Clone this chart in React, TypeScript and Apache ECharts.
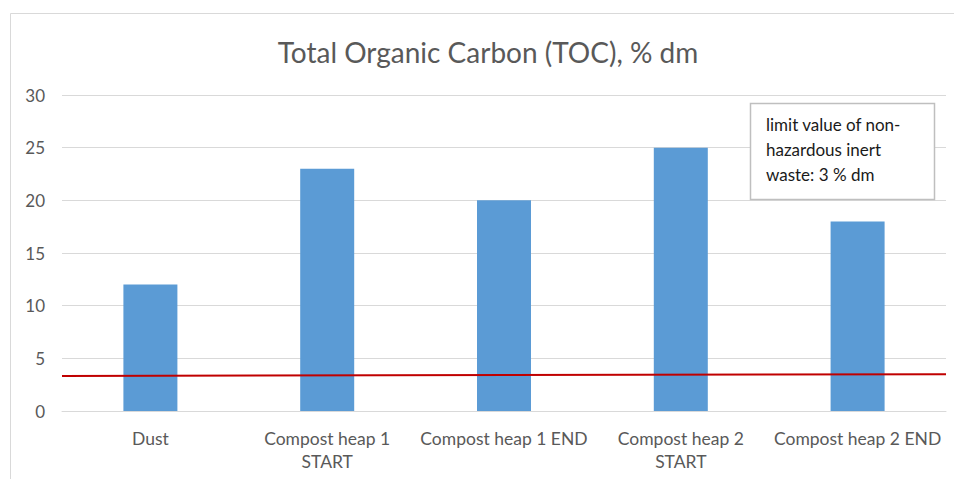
import React, { useEffect, useRef } from "react";
import * as echarts from "echarts";

const categories = [
  "Dust",
  "Compost heap 1\nSTART",
  "Compost heap 1 END",
  "Compost heap 2\nSTART",
  "Compost heap 2 END",
];
const tocValues = [12, 23, 20, 25, 18];
const limitLine = [
  [0, 3.32],
  [1, 3.5],
];
const yTicks = { min: 0, max: 30, interval: 5 };
const titleText = "Total Organic Carbon (TOC), % dm";
const noteLines = ["limit value of non-", "hazardous inert", "waste: 3 % dm"];

export default function App() {
  const ref = useRef<HTMLDivElement>(null);
  useEffect(() => {
    if (!ref.current) return;
    const chart = echarts.init(ref.current, undefined, { renderer: "svg" });
    const font = "Lato, 'Open Sans', sans-serif";
    chart.setOption({
      animation: false,
      backgroundColor: "#ffffff",
      title: {
        text: titleText,
        left: 483,
        top: 33,
        textAlign: "center",
        textStyle: { fontFamily: font, fontSize: 28, fontWeight: "normal", color: "#595959" },
      },
      grid: { left: 62, right: 8, top: 95, bottom: 68, containLabel: false },
      xAxis: [
        {
          type: "category",
          data: categories,
          axisLine: { show: true, lineStyle: { color: "#d9d9d9", width: 1 } },
          axisTick: { show: false },
          axisLabel: {
            fontFamily: font,
            fontSize: 17.5,
            color: "#595959",
            margin: 16,
            lineHeight: 23,
            interval: 0,
          },
        },
        { type: "value", min: 0, max: 1, show: false, position: "top" },
      ],
      yAxis: {
        type: "value",
        min: yTicks.min,
        max: yTicks.max,
        interval: yTicks.interval,
        axisLine: { show: false },
        axisTick: { show: false },
        axisLabel: { fontFamily: font, fontSize: 17, color: "#595959", margin: 17 },
        splitLine: { lineStyle: { color: "#d9d9d9", width: 1 } },
      },
      series: [
        {
          type: "bar",
          data: tocValues,
          barWidth: 54,
          itemStyle: { color: "#5b9bd5" },
          xAxisIndex: 0,
        },
        {
          type: "line",
          data: limitLine,
          xAxisIndex: 1,
          symbol: "none",
          lineStyle: { color: "#c00000", width: 2 },
          z: 5,
        },
      ],
      graphic: [
        {
          type: "rect",
          shape: { x: 10.5, y: 13.5, width: 1000, height: 1000 },
          style: { fill: "none", stroke: "#d9d9d9", lineWidth: 1 },
          silent: true,
          z: 0,
        },
        {
          type: "rect",
          shape: { x: 750.5, y: 103.5, width: 184, height: 96 },
          style: { fill: "#ffffff", stroke: "#bfbfbf", lineWidth: 1.5 },
          z: 10,
        },
        {
          type: "text",
          x: 766,
          y: 112,
          z: 11,
          style: {
            text: noteLines.join("\n"),
            fontFamily: font,
            fontSize: 17,
            lineHeight: 25,
            fill: "#1a1a1a",
          },
        },
      ],
    });
    return () => chart.dispose();
  }, []);
  return (
    <div
      ref={ref}
      style={{ position: "absolute", left: 0, top: 0, width: 954, height: 479 }}
    />
  );
}
